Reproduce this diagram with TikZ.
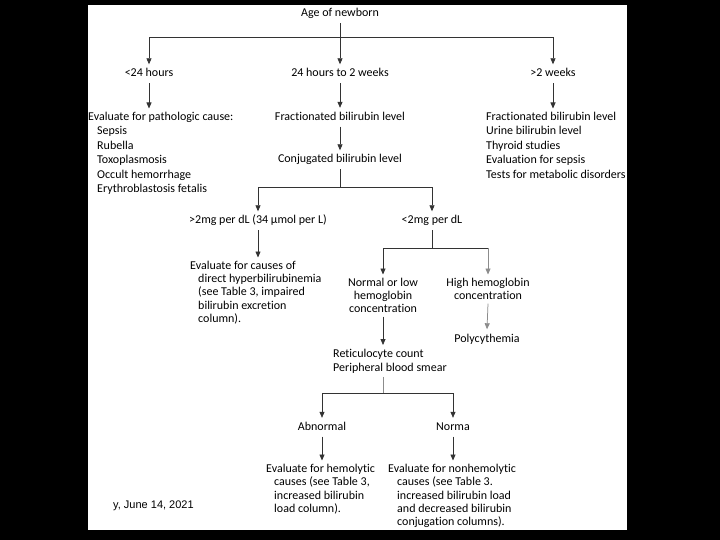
\documentclass[tikz,border=0pt]{standalone}
\usepackage{fontspec}
\setmainfont{Carlito}[Ligatures=NoCommon]
\newfontfamily\footfont{Liberation Sans}
\usetikzlibrary{arrows.meta}
\tikzset{
  lbl/.style={font=\fontsize{12}{14}\selectfont, inner xsep=0pt, inner ysep=3.5pt,
    text height=9pt, text depth=2.5pt, anchor=base},
  blk/.style={font=\fontsize{12}{#1}\selectfont, inner xsep=0pt, inner ysep=3.5pt,
    align=left, anchor=north west},
  con/.style={draw=black!80, line width=0.75pt},
  lightcon/.style={draw=black!45, line width=0.75pt},
  arr/.style={con, -{Triangle[length=6pt,width=5pt]}},
  lightarr/.style={lightcon, -{Triangle[length=6pt,width=5pt]}},
}
\begin{document}
\begin{tikzpicture}[x=1pt,y=-1pt]
\useasboundingbox (0,0) rectangle (720,540);
\fill[black] (0,0) rectangle (720,540);
\fill[white] (88,5) rectangle (627,530);
\begin{scope}
\clip (88,5) rectangle (627,530);
% nodes
\node[lbl] (age) at (340,17) {Age of newborn};
\coordinate (j1) at (340,37);
\node[lbl] (lt24) at (149,77) {<24 hours};
\node[lbl] (mid) at (340,77) {24 hours to 2 weeks};
\node[lbl] (gt2) at (553,77) {>2 weeks};
\node[blk=14.4] (path) at (88,108.5) {Evaluate for pathologic cause:\\
  \hspace*{9pt}Sepsis\\
  \hspace*{9pt}Rubella\\
  \hspace*{9pt}Toxoplasmosis\\
  \hspace*{9pt}Occult hemorrhage\\
  \hspace*{9pt}Erythroblastosis fetalis};
\node[lbl] (frac) at (340,120.5) {Fractionated bilirubin level};
\node[lbl] (conj) at (340,163) {Conjugated bilirubin level};
\node[blk=14.4] (rlist) at (486,108.5) {Fractionated bilirubin level\\
  Urine bilirubin level\\
  Thyroid studies\\
  Evaluation for sepsis\\
  Tests for metabolic disorders};
\coordinate (j2) at (340,187);
\node[lbl] (gt2mg) at (258,224) {>2mg per dL (34 µmol per L)};
\node[lbl] (lt2mg) at (432,224) {<2mg per dL};
\node[blk=13.2] (direct) at (190,257.5) {Evaluate for causes of\\
  \hspace*{8pt}direct hyperbilirubinemia\\
  \hspace*{8pt}(see Table 3, impaired\\
  \hspace*{8pt}bilirubin excretion\\
  \hspace*{8pt}column).};
\coordinate (j3) at (432,248);
\node[blk=13.2, align=center, anchor=north] (normal) at (383,274.5) {Normal or low\\hemoglobin\\concentration};
\node[blk=13.2, align=center, anchor=north] (high) at (488,274.5) {High hemoglobin\\concentration};
\node[lbl] (poly) at (487,342) {Polycythemia};
\node[blk=14.2] (retic) at (333,345) {Reticulocyte count\\Peripheral blood smear};
\coordinate (j4) at (383,393);
\node[lbl] (abn) at (322,430.5) {Abnormal};
\node[lbl] (norma) at (453,430.5) {Norma};
\node[blk=13.3] (hemo) at (266,460.5) {Evaluate for hemolytic\\
  \hspace*{8pt}causes (see Table 3,\\
  \hspace*{8pt}increased bilirubin\\
  \hspace*{8pt}load column).};
\node[blk=13.3] (nonhemo) at (388,460.5) {Evaluate for nonhemolytic\\
  \hspace*{9pt}causes (see Table 3.\\
  \hspace*{9pt}increased bilirubin load\\
  \hspace*{9pt}and decreased bilirubin\\
  \hspace*{9pt}conjugation columns).};
\node[font=\footfont\fontsize{11}{13}\selectfont, anchor=base west, inner sep=0pt] (foot) at (113,508) {y, June 14, 2021};
% connectors
\draw[arr] (age.south) -- (mid.north);
\draw[arr] (j1) -| (lt24.north);
\draw[arr] (j1) -| (gt2.north);
\draw[arr] (lt24.south) -- (lt24.south |- path.north);
\draw[arr] (mid.south) -- (frac.north);
\draw[arr] (frac.south) -- (conj.north);
\draw[arr] (gt2.south) -- (gt2.south |- rlist.north);
\draw[con] (conj.south) -- (j2);
\draw[arr] (j2) -| (gt2mg.north);
\draw[arr] (j2) -| (lt2mg.north);
\draw[arr] (gt2mg.south) -- (gt2mg.south |- direct.north);
\draw[con] (lt2mg.south) -- (j3);
\draw[arr] (j3) -| (normal.north);
\draw[con] (j3) -- (j3 -| high.north);
\draw[lightarr] (j3 -| high.north) -- (high.north);
\draw[lightarr] (high.south) -- (poly.north);
\draw[arr] (normal.south) -- (normal.south |- retic.north);
\draw[lightcon] (j4 |- retic.south) -- (j4);
\draw[arr] (j4) -| (abn.north);
\draw[arr] (j4) -| (norma.north);
\draw[arr] (abn.south) -- (abn.south |- hemo.north);
\draw[arr] (norma.south) -- (norma.south |- nonhemo.north);
\end{scope}
\end{tikzpicture}
\end{document}
